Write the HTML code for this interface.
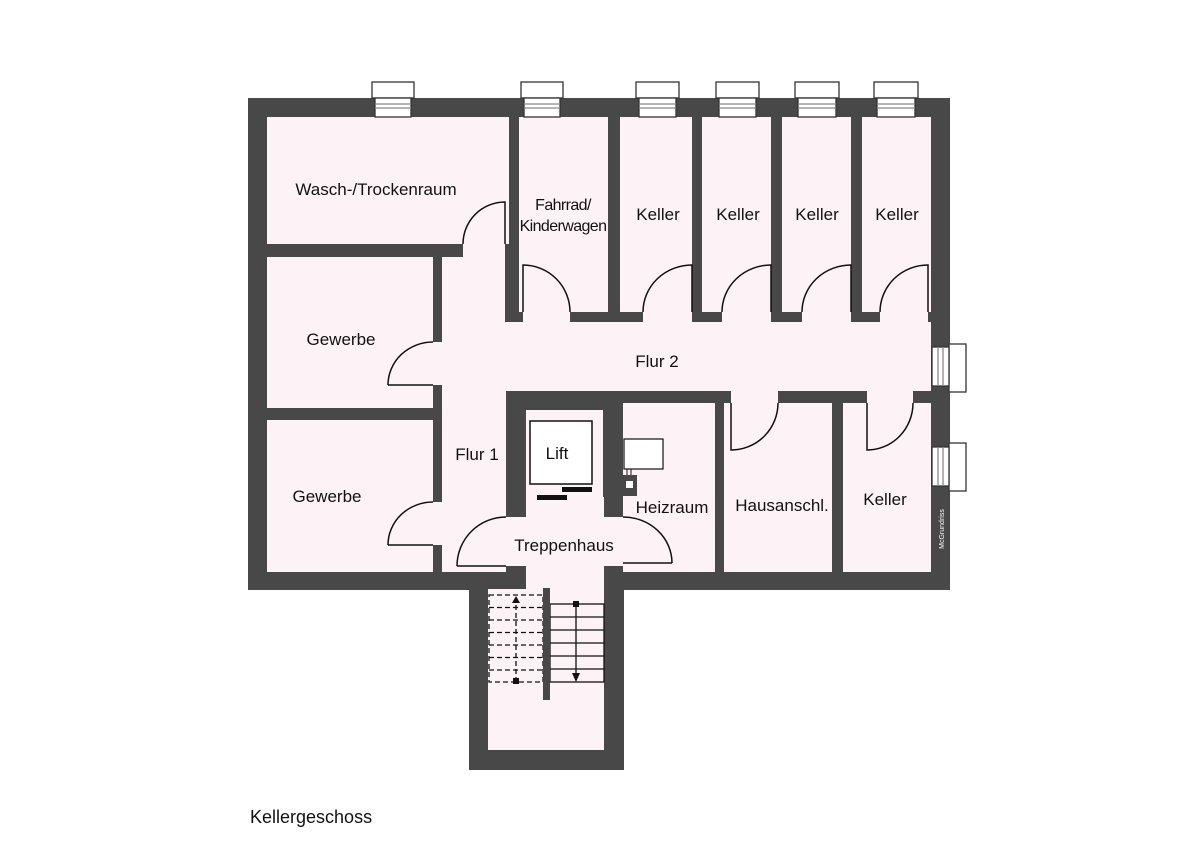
<!DOCTYPE html>
<html><head><meta charset="utf-8"><style>
html,body{margin:0;padding:0;background:#fff;}
svg{display:block;}
text{font-family:"Liberation Sans",Arial,sans-serif;fill:#111;}
</style></head><body>
<svg width="1200" height="848" viewBox="0 0 1200 848" xmlns="http://www.w3.org/2000/svg">
<rect width="1200" height="848" fill="#fff"/>
<g fill="#484848">
<rect x="248" y="98" width="702" height="492"/>
<rect x="469" y="572" width="155" height="198"/>
</g>
<g fill="#fdf3f6">
<rect x="267" y="117" width="242" height="127"/>
<rect x="463" y="244" width="42" height="13"/>
<rect x="519" y="117" width="89" height="195"/>
<rect x="523" y="312" width="47" height="10"/>
<rect x="620" y="117" width="72" height="195"/>
<rect x="702" y="117" width="69" height="195"/>
<rect x="782" y="117" width="69" height="195"/>
<rect x="862" y="117" width="69" height="195"/>
<rect x="643" y="311" width="49" height="12"/>
<rect x="722" y="311" width="49" height="12"/>
<rect x="802" y="311" width="49" height="12"/>
<rect x="880" y="311" width="48" height="12"/>
<rect x="442" y="322" width="489" height="69"/>
<rect x="442" y="257" width="63" height="66"/>
<rect x="442" y="322" width="64" height="250"/>
<rect x="267" y="257" width="166" height="151"/>
<rect x="432" y="342" width="11" height="43"/>
<rect x="267" y="420" width="166" height="152"/>
<rect x="432" y="502" width="11" height="43"/>
<rect x="526" y="410" width="77" height="87"/>
<rect x="537" y="484" width="55" height="34"/>
<rect x="506" y="517" width="118" height="49"/>
<rect x="526" y="497" width="78" height="93"/>
<rect x="488" y="589" width="116" height="161"/>
<rect x="623" y="403" width="92" height="169"/>
<rect x="724" y="403" width="108" height="169"/>
<rect x="843" y="403" width="88" height="169"/>
<rect x="731" y="390" width="47" height="14"/>
<rect x="867" y="390" width="46" height="14"/>
</g>
<!-- lift -->
<rect x="530" y="421" width="62" height="63" fill="#fff" stroke="#111" stroke-width="1.5"/>
<rect x="537" y="495" width="30" height="5" fill="#111"/>
<rect x="562" y="487" width="30" height="5" fill="#111"/>
<!-- boiler -->
<rect x="624" y="439" width="39" height="30" fill="#fff" stroke="#111" stroke-width="1.2"/>
<line x1="627" y1="469" x2="627" y2="476" stroke="#111"/><line x1="631" y1="469" x2="631" y2="476" stroke="#111"/>
<rect x="623" y="475" width="14" height="21" fill="#484848"/>
<rect x="626" y="481" width="7" height="7" fill="#fff"/>
<!-- doors -->
<g fill="none" stroke="#111" stroke-width="1.5">
<path d="M463 244 A42 42 0 0 1 505 202 L505 244"/>
<path d="M388 385 A45 43 0 0 1 433 342 M388 385 L433 385"/>
<path d="M388 545 A45 43 0 0 1 433 502 M388 545 L433 545"/>
<path d="M523 312 L523 265 A47 47 0 0 1 570 312"/>
<path d="M643 312 A49 47 0 0 1 692 265 L692 312"/>
<path d="M722 312 A49 47 0 0 1 771 265 L771 312"/>
<path d="M802 312 A49 47 0 0 1 851 265 L851 312"/>
<path d="M880 312 A48 47 0 0 1 928 265 L928 312"/>
<path d="M731 403 L731 450 A47 47 0 0 0 778 403"/>
<path d="M867 403 L867 450 A46 47 0 0 0 913 403"/>
<path d="M457 566 A49 49 0 0 1 506 517 M457 566 L506 566"/>
<path d="M623 517 A49 46 0 0 1 672 563 M623 563 L672 563"/>
</g>
<!-- stairs -->
<g stroke="#111" stroke-width="1.3" fill="none">
<rect x="489" y="595" width="54" height="87" stroke-dasharray="5,3"/>
<g stroke-dasharray="5,3">
<line x1="489" y1="607.5" x2="543" y2="607.5"/><line x1="489" y1="620" x2="543" y2="620"/>
<line x1="489" y1="632.5" x2="543" y2="632.5"/><line x1="489" y1="645" x2="543" y2="645"/>
<line x1="489" y1="657.5" x2="543" y2="657.5"/><line x1="489" y1="670" x2="543" y2="670"/>
<line x1="516" y1="605" x2="516" y2="680"/>
</g>
<rect x="550" y="604" width="54" height="78"/>
<line x1="550" y1="617" x2="604" y2="617"/><line x1="550" y1="630" x2="604" y2="630"/>
<line x1="550" y1="643" x2="604" y2="643"/><line x1="550" y1="656" x2="604" y2="656"/>
<line x1="550" y1="669" x2="604" y2="669"/>
<line x1="576" y1="604" x2="576" y2="674"/>
</g>
<path d="M512 603 L516 596 L520 603 Z" fill="#111"/>
<rect x="513" y="678" width="6" height="6" fill="#111"/>
<rect x="573" y="601" width="6" height="6" fill="#111"/>
<path d="M572 673 L576 682 L580 673 Z" fill="#111"/>
<rect x="543" y="588" width="7" height="112" fill="#484848"/>
<!-- windows -->
<g stroke="#333" stroke-width="1.3">
<g fill="#fff">
<rect x="372" y="82" width="42" height="16"/><rect x="375" y="98" width="36" height="19"/>
<rect x="521" y="82" width="42" height="16"/><rect x="524" y="98" width="36" height="19"/>
<rect x="636" y="82" width="43" height="16"/><rect x="639" y="98" width="37" height="19"/>
<rect x="716" y="82" width="43" height="16"/><rect x="719" y="98" width="37" height="19"/>
<rect x="795" y="82" width="44" height="16"/><rect x="798" y="98" width="38" height="19"/>
<rect x="874" y="82" width="44" height="16"/><rect x="877" y="98" width="38" height="19"/>
<rect x="949" y="344" width="17" height="48"/><rect x="932" y="347" width="17" height="39"/>
<rect x="949" y="443" width="17" height="48"/><rect x="932" y="447" width="17" height="39"/>
</g>
<g stroke="#888">
<line x1="375" y1="104" x2="411" y2="104"/><line x1="375" y1="108" x2="411" y2="108"/>
<line x1="524" y1="104" x2="560" y2="104"/><line x1="524" y1="108" x2="560" y2="108"/>
<line x1="639" y1="104" x2="676" y2="104"/><line x1="639" y1="108" x2="676" y2="108"/>
<line x1="719" y1="104" x2="756" y2="104"/><line x1="719" y1="108" x2="756" y2="108"/>
<line x1="798" y1="104" x2="836" y2="104"/><line x1="798" y1="108" x2="836" y2="108"/>
<line x1="877" y1="104" x2="915" y2="104"/><line x1="877" y1="108" x2="915" y2="108"/>
<line x1="938" y1="347" x2="938" y2="386"/><line x1="943" y1="347" x2="943" y2="386"/>
<line x1="938" y1="447" x2="938" y2="486"/><line x1="943" y1="447" x2="943" y2="486"/>
</g>
</g>
<!-- labels -->
<g font-size="17" text-anchor="middle">
<text x="376" y="195">Wasch-/Trockenraum</text>
<text x="563" y="210" font-size="16" letter-spacing="-0.6">Fahrrad/</text>
<text x="563" y="231" font-size="16" letter-spacing="-0.6">Kinderwagen</text>
<text x="658" y="220">Keller</text>
<text x="738" y="220">Keller</text>
<text x="817" y="220">Keller</text>
<text x="897" y="220">Keller</text>
<text x="657" y="367">Flur 2</text>
<text x="341" y="345">Gewerbe</text>
<text x="327" y="502">Gewerbe</text>
<text x="477" y="460">Flur 1</text>
<text x="557" y="459">Lift</text>
<text x="672" y="513">Heizraum</text>
<text x="782" y="511">Hausanschl.</text>
<text x="885" y="505">Keller</text>
<text x="564" y="551">Treppenhaus</text>
</g>
<text x="250" y="823" font-size="18">Kellergeschoss</text>
<text x="944" y="529" font-size="7" style="fill:#fff" text-anchor="middle" transform="rotate(-90 944 529)">McGrundriss</text>
</svg>
</body></html>
